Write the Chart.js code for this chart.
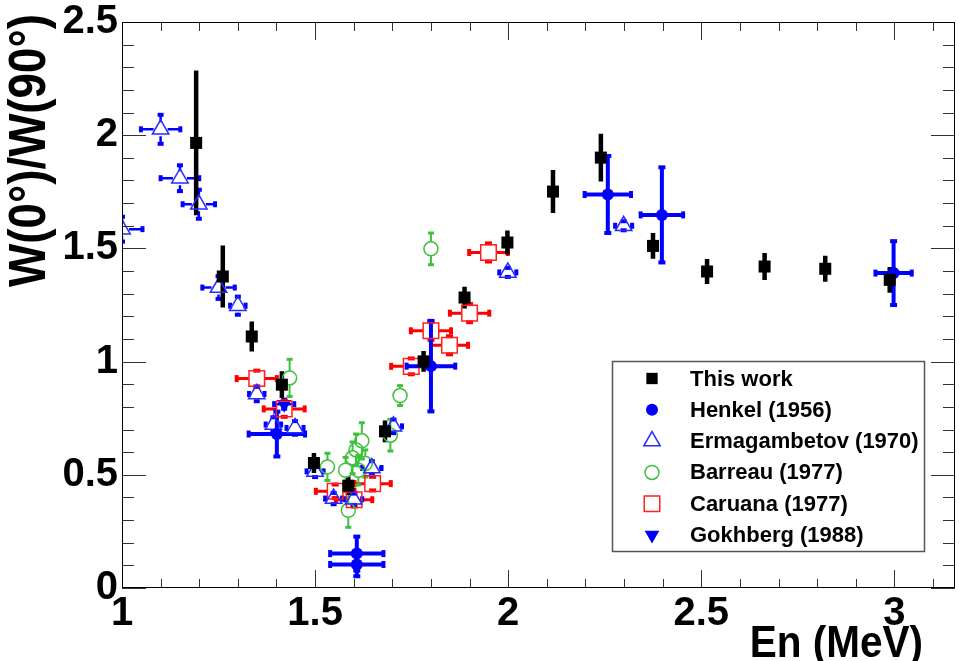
<!DOCTYPE html>
<html>
<head>
<meta charset="utf-8">
<script src="https://cdn.jsdelivr.net/npm/chart.js@4.4.1/dist/chart.umd.min.js"></script>
<style>
  html, body { margin: 0; padding: 0; background: #fff; }
  canvas { display: block; }
</style>
</head>
<body>
<canvas id="ratioChart" width="959" height="661"></canvas>
<script>
// neutron energy (MeV), W(0)/W(90) ratio and errors per measurement
const thisWorkX = [1.192, 1.261, 1.336, 1.414, 1.497, 1.586, 1.681, 1.781, 1.887, 1.998, 2.116, 2.240, 2.375, 2.515, 2.664, 2.821, 2.988];
const thisWorkY = [1.966, 1.376, 1.111, 0.898, 0.552, 0.452, 0.692, 1.001, 1.283, 1.526, 1.751, 1.901, 1.511, 1.398, 1.420, 1.410, 1.361];
const thisWorkYErr = [0.320, 0.137, 0.066, 0.059, 0.044, 0.041, 0.048, 0.046, 0.048, 0.053, 0.095, 0.105, 0.057, 0.055, 0.060, 0.057, 0.057];

const henkelX = [1.401, 1.608, 1.608, 1.800, 2.258, 2.398, 2.998];
const henkelY = [0.680, 0.152, 0.104, 0.980, 1.738, 1.648, 1.391];
const henkelXErr = [0.073, 0.069, 0.069, 0.063, 0.060, 0.055, 0.047];
const henkelYErr = [0.099, 0.075, 0.052, 0.200, 0.170, 0.210, 0.141];

const ermagX = [1.000, 1.100, 1.150, 1.199, 1.250, 1.300, 1.349, 1.392, 1.448, 1.500, 1.548, 1.600, 1.647, 1.703, 1.999, 2.299];
const ermagY = [1.585, 2.026, 1.810, 1.695, 1.327, 1.247, 0.857, 0.722, 0.707, 0.515, 0.395, 0.392, 0.530, 0.714, 1.394, 1.600];
const ermagXErr = [0.053, 0.051, 0.050, 0.042, 0.042, 0.020, 0.020, 0.020, 0.022, 0.022, 0.022, 0.022, 0.025, 0.022, 0.022, 0.022];
const ermagYErr = [0.055, 0.064, 0.057, 0.064, 0.050, 0.040, 0.032, 0.032, 0.030, 0.025, 0.025, 0.025, 0.030, 0.030, 0.020, 0.020];

const barreauX = [1.434, 1.532, 1.579, 1.586, 1.597, 1.606, 1.612, 1.621, 1.630, 1.695, 1.720, 1.800];
const barreauY = [0.928, 0.535, 0.520, 0.343, 0.575, 0.610, 0.520, 0.650, 0.550, 0.675, 0.850, 1.498];
const barreauYErr = [0.082, 0.060, 0.057, 0.075, 0.070, 0.070, 0.065, 0.080, 0.060, 0.070, 0.044, 0.070];

const caruanaX = [1.349, 1.420, 1.552, 1.601, 1.649, 1.749, 1.800, 1.848, 1.900, 1.949];
const caruanaY = [0.925, 0.791, 0.427, 0.390, 0.461, 0.979, 1.136, 1.072, 1.214, 1.482];
const caruanaXErr = [0.052, 0.053, 0.050, 0.047, 0.047, 0.052, 0.052, 0.048, 0.051, 0.050];
const caruanaYErr = [0.035, 0.035, 0.030, 0.030, 0.030, 0.035, 0.040, 0.040, 0.040, 0.040];

const gokhbergX = [1.420];
const gokhbergY = [0.812];
const gokhbergXErr = [0.026];
const gokhbergYErr = [0.020];

const xTickValues = [1, 1.5, 2, 2.5, 3];
const xTickLabels = ['1', '1.5', '2', '2.5', '3'];
const yTickValues = [0, 0.5, 1, 1.5, 2, 2.5];
const yTickLabels = ['0', '0.5', '1', '1.5', '2', '2.5'];

const FONT = '"Liberation Sans", Arial, Helvetica, sans-serif';
const GREEN = '#3fc03f';

function points(xs, ys) {
    return xs.map((x, i) => ({ x: x, y: ys[i] }));
}

// error bars with small end blocks, drawn under the markers
const errorBars = {
    id: 'errorBars',
    beforeDatasetsDraw(chart) {
        const { ctx, chartArea: a, scales: { x, y } } = chart;
        ctx.save();
        ctx.beginPath();
        ctx.rect(a.left, a.top, a.right - a.left, a.bottom - a.top);
        ctx.clip();
        for (let d = chart.data.datasets.length - 1; d >= 0; d--) {
            const ds = chart.data.datasets[d];
            const s = ds.errorStyle;
            ctx.strokeStyle = s.color;
            ctx.fillStyle = s.color;
            ctx.lineWidth = s.width;
            ds.data.forEach((p, i) => {
                const cx = x.getPixelForValue(p.x);
                const cy = y.getPixelForValue(p.y);
                if (s.yErr) {
                    const lo = y.getPixelForValue(p.y - s.yErr[i]);
                    const hi = y.getPixelForValue(p.y + s.yErr[i]);
                    ctx.beginPath();
                    if (lo > cy + s.gap) { ctx.moveTo(cx, cy + s.gap); ctx.lineTo(cx, lo); }
                    if (hi < cy - s.gap) { ctx.moveTo(cx, cy - s.gap); ctx.lineTo(cx, hi); }
                    ctx.stroke();
                    if (s.cap) {
                        ctx.fillRect(cx - s.cap[0] / 2, lo - s.cap[1] / 2, s.cap[0], s.cap[1]);
                        ctx.fillRect(cx - s.cap[0] / 2, hi - s.cap[1] / 2, s.cap[0], s.cap[1]);
                    }
                }
                if (s.xErr) {
                    const l = x.getPixelForValue(p.x - s.xErr[i]);
                    const r = x.getPixelForValue(p.x + s.xErr[i]);
                    ctx.beginPath();
                    if (l < cx - s.gap) { ctx.moveTo(cx - s.gap, cy); ctx.lineTo(l, cy); }
                    if (r > cx + s.gap) { ctx.moveTo(cx + s.gap, cy); ctx.lineTo(r, cy); }
                    ctx.stroke();
                    if (s.cap) {
                        ctx.fillRect(l - s.cap[1] / 2, cy - s.cap[0] / 2, s.cap[1], s.cap[0]);
                        ctx.fillRect(r - s.cap[1] / 2, cy - s.cap[0] / 2, s.cap[1], s.cap[0]);
                    }
                }
            });
        }
        ctx.restore();
    }
};

// frame with inward ticks on all four sides, plus axis titles
const frame = {
    id: 'frame',
    afterDraw(chart) {
        const { ctx, chartArea: a, scales: { x, y } } = chart;
        ctx.save();
        ctx.strokeStyle = '#333';
        ctx.lineWidth = 1;
        ctx.beginPath();
        for (let k = 0; k <= 25; k++) {
            const py = Math.round(y.getPixelForValue(k / 10)) + 0.5;
            const len = k % 5 === 0 ? 24 : 12;
            ctx.moveTo(a.left, py); ctx.lineTo(a.left + len, py);
            ctx.moveTo(a.right, py); ctx.lineTo(a.right - len, py);
        }
        for (let k = 10; k <= 31; k++) {
            const px = Math.round(x.getPixelForValue(k / 10)) + 0.5;
            const len = k % 5 === 0 ? 18 : 9;
            ctx.moveTo(px, a.bottom); ctx.lineTo(px, a.bottom - len);
            ctx.moveTo(px, a.top); ctx.lineTo(px, a.top + len);
        }
        ctx.stroke();
        ctx.strokeStyle = '#000';
        ctx.strokeRect(a.left + 0.5, a.top + 0.5, a.right - a.left - 1, a.bottom - a.top - 1);

        // titles are set in a condensed bold face
        ctx.fillStyle = '#000';
        ctx.textAlign = 'right';
        ctx.save();
        ctx.font = 'bold 45px ' + FONT;
        ctx.textBaseline = 'alphabetic';
        ctx.translate(923, 657);
        ctx.scale(0.9, 1);
        ctx.fillText('En (MeV)', 0, 0);
        ctx.restore();
        ctx.font = 'bold 52px ' + FONT;
        ctx.textBaseline = 'middle';
        ctx.translate(31, 14);
        ctx.rotate(-Math.PI / 2);
        ctx.scale(0.88, 1);
        ctx.fillText('W(0°)/W(90°)', 0, 0);
        ctx.restore();
    }
};

const legendBox = {
    id: 'legendBox',
    afterDraw(chart) {
        const ctx = chart.ctx;
        ctx.save();
        ctx.fillStyle = '#fff';
        ctx.fillRect(612, 361, 312, 190);
        ctx.strokeStyle = '#555';
        ctx.lineWidth = 1.5;
        ctx.strokeRect(612.5, 361.5, 312, 190);
        chart.data.datasets.forEach((ds, i) => {
            const rowY = 378.5 + i * 31.3;
            ctx.fillStyle = ds.backgroundColor;
            ctx.strokeStyle = ds.borderColor;
            ctx.lineWidth = ds.borderWidth;
            Chart.helpers.drawPoint(ctx, {
                pointStyle: ds.pointStyle,
                radius: ds.legendRadius,
                rotation: ds.pointRotation || 0,
                borderWidth: ds.borderWidth
            }, 652, rowY);
            ctx.fillStyle = '#000';
            ctx.font = 'bold 22px ' + FONT;
            ctx.textAlign = 'left';
            ctx.textBaseline = 'middle';
            ctx.fillText(ds.label, 690, rowY + 1);
        });
        ctx.restore();
    }
};

const ctx = document.getElementById('ratioChart').getContext('2d');
const ratioChart = new Chart(ctx, {
    type: 'scatter',
    data: {
        datasets: [{
            label: 'This work',
            data: points(thisWorkX, thisWorkY),
            pointStyle: 'rect',
            pointRadius: 8.5,
            legendRadius: 8,
            backgroundColor: '#000',
            borderColor: '#000',
            borderWidth: 0,
            errorStyle: { color: '#000', width: 4.5, gap: 0, yErr: thisWorkYErr }
        }, {
            label: 'Henkel (1956)',
            data: points(henkelX, henkelY),
            pointStyle: 'circle',
            pointRadius: 6,
            legendRadius: 6,
            backgroundColor: '#0000ff',
            borderColor: '#0000ff',
            borderWidth: 0,
            errorStyle: { color: '#0000ff', width: 4, gap: 0, cap: [7, 4], xErr: henkelXErr, yErr: henkelYErr }
        }, {
            label: 'Ermagambetov (1970)',
            data: points(ermagX, ermagY),
            pointStyle: 'triangle',
            pointRadius: 9.5,
            legendRadius: 9.5,
            backgroundColor: 'rgba(0,0,0,0)',
            borderColor: '#2a2aff',
            borderWidth: 1.5,
            errorStyle: { color: '#0000ff', width: 2.5, gap: 7, cap: [6, 4], xErr: ermagXErr, yErr: ermagYErr }
        }, {
            label: 'Barreau (1977)',
            data: points(barreauX, barreauY),
            pointStyle: 'circle',
            pointRadius: 7,
            legendRadius: 7,
            backgroundColor: 'rgba(0,0,0,0)',
            borderColor: GREEN,
            borderWidth: 1.5,
            errorStyle: { color: GREEN, width: 2, gap: 7, cap: [6, 3], yErr: barreauYErr }
        }, {
            label: 'Caruana (1977)',
            data: points(caruanaX, caruanaY),
            pointStyle: 'rect',
            pointRadius: 11,
            legendRadius: 11,
            backgroundColor: 'rgba(0,0,0,0)',
            borderColor: '#ff2020',
            borderWidth: 1.5,
            errorStyle: { color: '#ff0000', width: 3, gap: 8, cap: [7, 4], xErr: caruanaXErr, yErr: caruanaYErr }
        }, {
            label: 'Gokhberg (1988)',
            data: points(gokhbergX, gokhbergY),
            pointStyle: 'triangle',
            pointRotation: 180,
            pointRadius: 8.5,
            legendRadius: 8.5,
            backgroundColor: '#0000ff',
            borderColor: '#0000ff',
            borderWidth: 0,
            errorStyle: { color: '#0000ff', width: 2.5, gap: 0, cap: [6, 4], xErr: gokhbergXErr, yErr: gokhbergYErr }
        }]
    },
    options: {
        responsive: false,
        animation: false,
        events: [],
        layout: { autoPadding: false, padding: { top: 22, right: 4, left: 0, bottom: 0 } },
        plugins: {
            legend: { display: false },
            tooltip: { enabled: false }
        },
        scales: {
            x: {
                type: 'linear',
                min: 1,
                max: 3.157,
                grid: { display: false, drawTicks: false },
                border: { display: false },
                afterFit: scale => {
                    scale.height = 73;
                    scale.paddingLeft = 0;
                    scale.paddingRight = 0;
                },
                afterBuildTicks: scale => { scale.ticks = xTickValues.map(v => ({ value: v })); },
                ticks: {
                    maxRotation: 0,
                    autoSkip: false,
                    padding: 2,
                    color: '#000',
                    font: { family: FONT, size: 40, weight: 'bold' },
                    callback: (v, i) => xTickLabels[i]
                }
            },
            y: {
                type: 'linear',
                min: 0,
                max: 2.5,
                grid: { display: false, drawTicks: false },
                border: { display: false },
                afterFit: scale => {
                    scale.width = 122;
                    scale.paddingTop = 0;
                    scale.paddingBottom = 0;
                },
                afterBuildTicks: scale => { scale.ticks = yTickValues.map(v => ({ value: v })); },
                ticks: {
                    autoSkip: false,
                    padding: 4,
                    color: '#000',
                    font: { family: FONT, size: 40, weight: 'bold' },
                    callback: (v, i) => yTickLabels[i]
                }
            }
        }
    },
    plugins: [errorBars, frame, legendBox]
});
</script>
</body>
</html>
